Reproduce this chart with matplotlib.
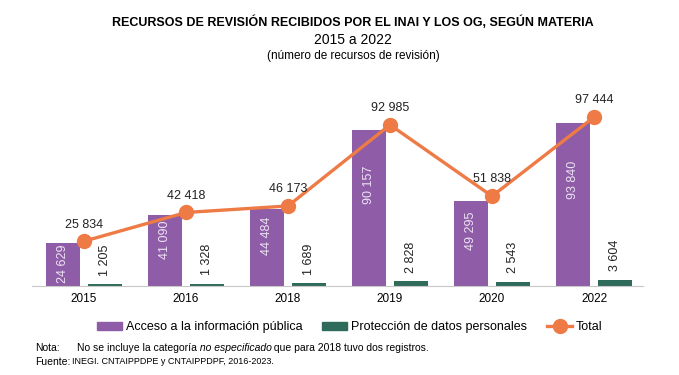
import numpy as np
import matplotlib
matplotlib.use('Agg')
import matplotlib.pyplot as plt
from matplotlib.patches import Patch
from matplotlib.lines import Line2D

plt.rcParams['font.family'] = ['Liberation Sans', 'DejaVu Sans']

# datos
anios = ['2015', '2016', '2018', '2019', '2020', '2022']
acceso = [24629, 41090, 44484, 90157, 49295, 93840]
proteccion = [1205, 1328, 1689, 2828, 2543, 3604]
total = [25834, 42418, 46173, 92985, 51838, 97444]

morado = '#8F5DA8'
verde = '#2F6B5B'
naranja = '#EE7A45'

def fmt(v):
    return '{:,}'.format(v).replace(',', ' ')

fig = plt.figure(figsize=(6.79, 3.75), dpi=100)
ax = fig.add_axes([0.047, 0.2373, 0.900, 0.496])

x = np.arange(len(anios))
w = 0.33
off = 0.205

ax.bar(x - off, acceso, w, color=morado, zorder=2)
ax.bar(x + off, proteccion, w, color=verde, zorder=2)
ax.plot(x, total, color=naranja, lw=2.4, marker='o', ms=10, zorder=4)

ax.set_xlim(-0.51, 5.48)
ax.set_ylim(0, 107300)

px = 107300 / (0.496 * 375)
for i in range(len(anios)):
    # etiquetas dentro de las barras moradas
    yc = min(0.65 * acceso[i], acceso[i] - 20 * px)
    ax.text(x[i] - off, yc, fmt(acceso[i]), rotation=90, ha='center', va='center',
            color='#EDE3F3', fontsize=9, zorder=3)
    # etiquetas sobre barras verdes
    ax.annotate(fmt(proteccion[i]), (x[i] + off, proteccion[i]), xytext=(0, 6),
                textcoords='offset points', rotation=90, ha='center', va='bottom',
                fontsize=9, color='#222222')
    # etiquetas del total
    ax.annotate(fmt(total[i]), (x[i], total[i]), xytext=(0, 12),
                textcoords='offset points', ha='center', va='center',
                fontsize=9, color='#222222', zorder=5)

for s in ['top', 'right', 'left']:
    ax.spines[s].set_visible(False)
ax.spines['bottom'].set_color('#C8C8C8')
ax.set_yticks([])
ax.set_xticks(x)
ax.set_xticklabels(anios, fontsize=8.5)
ax.tick_params(axis='x', length=0, pad=5)

fig.text(0.52, 0.941, 'RECURSOS DE REVISIÓN RECIBIDOS POR EL INAI Y LOS OG, SEGÚN MATERIA',
         ha='center', va='center', fontsize=9, fontweight='bold')
fig.text(0.52, 0.893, '2015 a 2022', ha='center', va='center', fontsize=10)
fig.text(0.52, 0.851, '(número de recursos de revisión)', ha='center', va='center', fontsize=8.5)

handles = [Patch(color=morado), Patch(color=verde),
           Line2D([], [], color=naranja, lw=2.4, marker='o', ms=10)]
labels = ['Acceso a la información pública', 'Protección de datos personales', 'Total']
fig.legend(handles, labels, loc='center', bbox_to_anchor=(0.515, 0.128), ncol=3,
           frameon=False, fontsize=9, handlelength=2.0, handleheight=0.6,
           handletextpad=0.3, columnspacing=1.6)

# nota con parte en cursiva
fig.text(0.052, 0.072, 'Nota:', fontsize=7.5, va='center')
partes = [('No se incluye la categoría', 'normal'), (' no especificado', 'italic'),
          (' que para 2018 tuvo dos registros.', 'normal')]
r = fig.canvas.get_renderer()
xpos = 0.113
for txt, st in partes:
    t = fig.text(xpos, 0.072, txt, fontsize=7.5, va='center', fontstyle=st)
    bb = t.get_window_extent(renderer=r)
    xpos += bb.width / fig.bbox.width
fig.text(0.052, 0.035, 'Fuente:', fontsize=7.5, va='center')
fig.text(0.106, 0.035, 'INEGI. CNTAIPPDPE y CNTAIPPDPF, 2016-2023.', fontsize=6.5, va='center')

fig.savefig('out.png', dpi=100)
